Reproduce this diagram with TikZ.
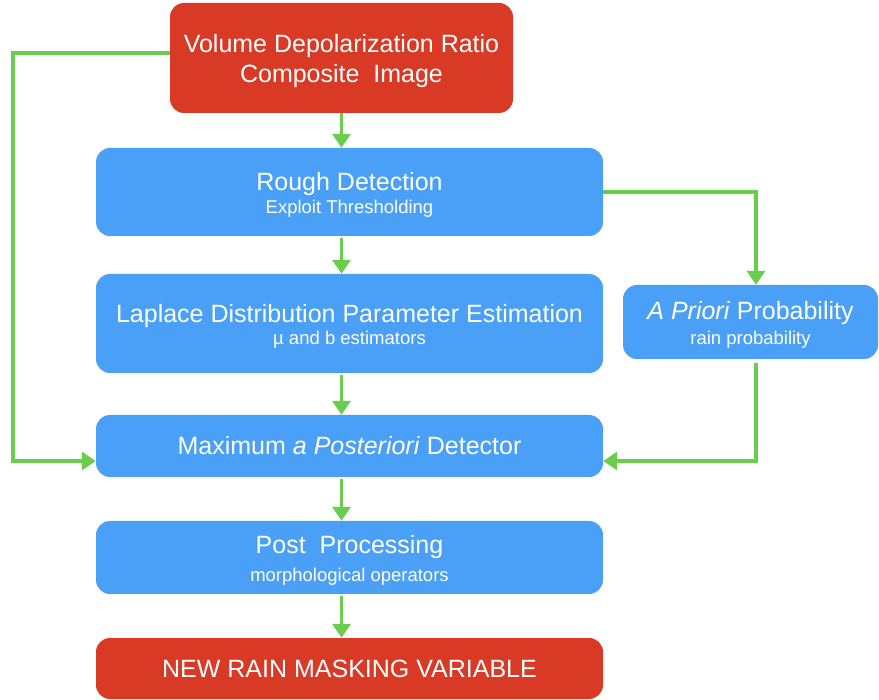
\documentclass[tikz,border=0pt]{standalone}
\usepackage{fontspec}
\setmainfont{Liberation Sans}
\usetikzlibrary{positioning,arrows.meta,calc}
\definecolor{boxred}{HTML}{D93A26}
\definecolor{boxblue}{HTML}{4AA0F7}
\definecolor{flowgreen}{HTML}{6BCD4E}
\newcommand{\ttl}{\fontsize{25}{30}\selectfont}
\newcommand{\sbt}{\fontsize{18.5}{22}\selectfont}
\newcommand{\tst}{\rule{0pt}{24pt}}

\begin{document}
\begin{tikzpicture}[x=1pt,y=-1pt]
	\tikzstyle{main}=[rectangle, rounded corners=14pt, text=white, align=center, inner sep=0pt, minimum width=507pt]
	\tikzstyle{blue}=[main, fill=boxblue]
	\tikzstyle{red}=[main, fill=boxred]
	\tikzstyle{connect}=[-{Triangle[width=18pt,length=14pt]}, line width=3.5pt, draw=flowgreen]
	\useasboundingbox (0,0) rectangle (879,700);
	\node[red, minimum width=343pt, minimum height=110pt] (vdr) at (341.5,58) {\ttl\tst Volume Depolarization Ratio\\[5pt]\ttl Composite\ \ Image};
	\node[blue, minimum height=88pt] (rough) at (349.5,192) {\ttl\tst Rough Detection\\[3pt]\sbt Exploit Thresholding};
	\node[blue, minimum height=99pt] (lap) at (349.5,323.5) {\ttl\tst Laplace Distribution Parameter Estimation\\[2pt]\sbt µ and b estimators};
	\node[blue, minimum width=255pt, minimum height=74pt] (prior) at (750.5,322) {\ttl\tst \textit{A Priori} Probability\\[5pt]\sbt rain probability};
	\node[blue, minimum height=62pt] (map) at (349.5,446) {\ttl Maximum \textit{a Posteriori} Detector};
	\node[blue, minimum height=73pt] (post) at (349.5,557.5) {\ttl\tst Post\ \ Processing\\[9pt]\sbt morphological operators};
	\node[red, minimum height=61pt] (out) at (349.5,668.5) {\ttl NEW RAIN MASKING VARIABLE};
	% corner points of the side links
	\coordinate (lc) at (13,53);
	\coordinate (rc) at (756,192);
	\coordinate (pc) at (756,461);

	\path (vdr.south) edge [connect] (rough.north -| vdr.south)
	($(rough.south -| vdr.south)+(0,2)$) edge [connect] (lap.north -| vdr.south)
	($(lap.south -| vdr.south)+(0,2)$) edge [connect] (map.north -| vdr.south)
	($(map.south -| vdr.south)+(0,2)$) edge [connect] (post.north -| vdr.south)
	($(post.south -| vdr.south)+(0,2)$) edge [connect] (out.north -| vdr.south);
	\draw[connect] (vdr.west |- lc) -- (lc) |- (map.west |- pc);
	\draw[connect] (rough.east |- rc) -- (rc) -- (prior.north -| rc);
	\draw[connect] ($(prior.south -| pc)+(0,4)$) -- (pc) -- (map.east |- pc);
\end{tikzpicture}
\end{document}
